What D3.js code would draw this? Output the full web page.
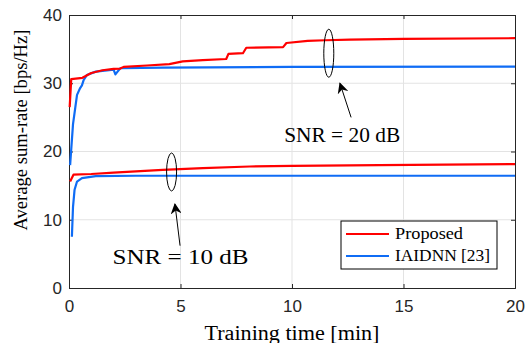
<!DOCTYPE html>
<html lang="en">
<head>
<meta charset="UTF-8" />
<title>Sum-rate vs training time</title>
<script src="https://d3js.org/d3.v7.min.js"></script>
<style>
  body { margin: 0; background: #fff; }
  svg { display: block; }
  .tick text { font-family: "Liberation Sans", Arial, sans-serif; font-size: 17px; fill: #262626; }
  .serif { font-family: "Liberation Serif", "Times New Roman", serif; fill: #000; }
  .grid line { stroke: #e3e3e3; stroke-width: 1; }
  .series { fill: none; stroke-width: 2.2; stroke-linejoin: round; }
</style>
</head>
<body>
<svg id="chart" width="526" height="343"></svg>
<script>
const xTicks = [0, 5, 10, 15, 20];
const yTicks = [0, 10, 20, 30, 40];

const prop20T = [0.03, 0.1, 0.6, 1.0, 1.5, 2.0, 2.3, 2.45, 3.5, 4.5, 5.1, 6.0, 7.05, 7.15, 7.8, 7.95, 9.6, 9.75, 10.7, 11.5, 12.6, 15, 20];
const prop20V = [26.5, 30.6, 30.8, 31.5, 31.9, 32.1, 32.15, 32.4, 32.6, 32.8, 33.2, 33.4, 33.55, 34.3, 34.4, 35.2, 35.3, 35.9, 36.2, 36.3, 36.4, 36.5, 36.6];

const iai20T = [0.05, 0.18, 0.28, 0.36, 0.5, 0.58, 0.66, 0.8, 1.2, 2.0, 2.08, 2.15, 2.3, 4.2, 10, 20];
const iai20V = [18, 24, 26.4, 28.3, 29.3, 29.7, 30.5, 31.2, 31.7, 32.0, 31.3, 31.6, 32.2, 32.3, 32.4, 32.45];

const prop10T = [0.05, 0.2, 1, 2, 4.2, 6, 8.1, 10, 13.9, 20];
const prop10V = [15.6, 16.6, 16.7, 16.9, 17.3, 17.55, 17.8, 17.9, 18.0, 18.15];

const iai10T = [0.13, 0.18, 0.25, 0.36, 0.58, 1.2, 3, 10, 20];
const iai10V = [7.5, 11.9, 14.4, 15.6, 16.1, 16.4, 16.45, 16.45, 16.45];

const red = "#ff0000", blue = "#0f6cf5";

const margin = { top: 15, right: 11, bottom: 55, left: 69 };
const W = 526, H = 343;
const w = W - margin.left - margin.right, h = H - margin.top - margin.bottom;

const svg = d3.select("#chart");
const defs = svg.append("defs");
defs.append("marker")
  .attr("id", "head").attr("viewBox", "0 0 10 10").attr("refX", 9).attr("refY", 5)
  .attr("markerWidth", 11).attr("markerHeight", 11).attr("markerUnits", "userSpaceOnUse")
  .attr("orient", "auto")
  .append("path").attr("d", "M0,0 L10,5 L0,10 L3,5 Z").attr("fill", "#000");

const g = svg.append("g").attr("transform", `translate(${margin.left},${margin.top})`);

const x = d3.scaleLinear().domain([0, 20]).range([0, w]);
const y = d3.scaleLinear().domain([0, 40]).range([h, 0]);

// grid
g.append("g").attr("class", "grid").selectAll("line")
  .data(xTicks.slice(1, -1)).join("line")
  .attr("x1", d => x(d)).attr("x2", d => x(d)).attr("y1", 0).attr("y2", h);
g.append("g").attr("class", "grid").selectAll("line")
  .data(yTicks.slice(1, -1)).join("line")
  .attr("y1", d => y(d)).attr("y2", d => y(d)).attr("x1", 0).attr("x2", w);

// axes (ticks pointing inwards, box on)
const xa = g.append("g").attr("transform", `translate(0,${h})`)
  .call(d3.axisBottom(x).tickValues(xTicks).tickSize(-4).tickPadding(12));
const ya = g.append("g")
  .call(d3.axisLeft(y).tickValues(yTicks).tickSize(-4).tickPadding(7));
g.append("g").call(d3.axisTop(x).tickValues(xTicks).tickSize(-4).tickFormat(""));
g.append("g").attr("transform", `translate(${w},0)`)
  .call(d3.axisRight(y).tickValues(yTicks).tickSize(-4).tickFormat(""));
g.selectAll(".domain").attr("stroke", "#262626");
g.selectAll(".tick line").attr("stroke", "#262626");
xa.selectAll("text").attr("dy", "0.71em");

// series
const line = d3.line().x(d => x(d[0])).y(d => y(d[1]));
const series = [
  [prop20T, prop20V, red], [iai20T, iai20V, blue],
  [prop10T, prop10V, red], [iai10T, iai10V, blue]
];
// blue under red
series.slice().sort((a, b) => (a[2] === red) - (b[2] === red)).forEach(([t, v, c]) => {
  g.append("path").attr("class", "series").attr("stroke", c)
    .attr("d", line(d3.zip(t, v)));
});

// annotations
function note(cx, cy, ry, ax1, ay1, ax2, ay2, label, lx, ly, len) {
  g.append("ellipse").attr("cx", x(cx)).attr("cy", y(cy)).attr("rx", 5).attr("ry", ry)
    .attr("fill", "none").attr("stroke", "#000").attr("stroke-width", 1);
  g.append("line").attr("x1", x(ax1)).attr("y1", y(ay1)).attr("x2", x(ax2)).attr("y2", y(ay2))
    .attr("stroke", "#000").attr("stroke-width", 1).attr("marker-end", "url(#head)");
  g.append("text").attr("class", "serif").attr("x", x(lx)).attr("y", y(ly))
    .attr("text-anchor", "middle").attr("font-size", 20)
    .attr("textLength", len).attr("lengthAdjust", "spacingAndGlyphs").text(label);
}
note(11.65, 34.4, 24, 12.65, 25.0, 12.15, 30.0, "SNR = 20 dB", 12.25, 21.4, 116);
note(4.6, 17.0, 19, 4.98, 6.2, 4.75, 12.3, "SNR = 10 dB", 5.0, 3.5, 136);

// legend
const leg = g.append("g").attr("transform", `translate(${341 - margin.left},${221 - margin.top})`);
leg.append("rect").attr("width", 156).attr("height", 48)
  .attr("fill", "#fff").attr("stroke", "#000").attr("stroke-width", 1);
[["Proposed", red, 68], ["IAIDNN [23]", blue, 95]].forEach(([name, c, len], i) => {
  const yy = 13 + i * 22;
  leg.append("line").attr("x1", 5).attr("x2", 48).attr("y1", yy).attr("y2", yy)
    .attr("stroke", c).attr("stroke-width", 2.2);
  leg.append("text").attr("class", "serif").attr("x", 54).attr("y", yy + 5)
    .attr("font-size", 16).attr("textLength", len).attr("lengthAdjust", "spacingAndGlyphs")
    .text(name);
});

// axis labels
svg.append("text").attr("class", "serif").attr("font-size", 19)
  .attr("text-anchor", "middle")
  .attr("transform", `translate(27,130) rotate(-90)`)
  .attr("textLength", 201).attr("lengthAdjust", "spacingAndGlyphs")
  .text("Average sum-rate [bps/Hz]");
svg.append("text").attr("class", "serif").attr("font-size", 20)
  .attr("text-anchor", "middle")
  .attr("x", 292).attr("y", 340)
  .attr("textLength", 175).attr("lengthAdjust", "spacingAndGlyphs")
  .text("Training time [min]");
</script>
</body>
</html>
